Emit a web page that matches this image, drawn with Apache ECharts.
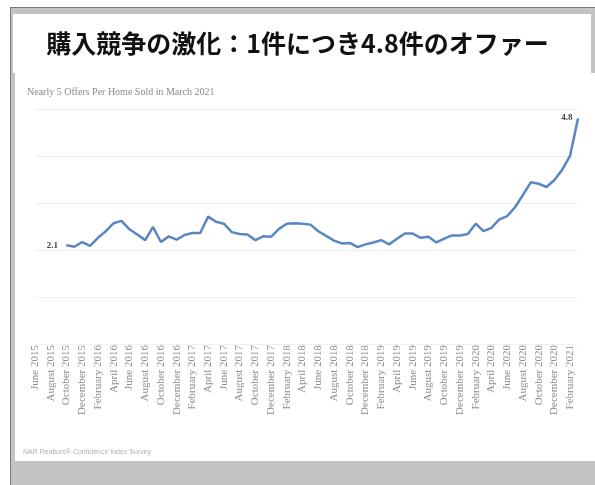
<!DOCTYPE html>
<html>
<head>
<meta charset="utf-8">
<script src="https://cdn.jsdelivr.net/npm/echarts@6/dist/echarts.min.js"></script>
<style>html,body{margin:0;padding:0;background:#fff;}#c{width:595px;height:485px;}</style>
</head>
<body>
<div id="c"></div>
<script>
var titleText = '購入競争の激化：1件につき4.8件のオファー';
var subtitleText = 'Nearly 5 Offers Per Home Sold in March 2021';
var sourceText = 'NAR Realtors® Confidence Index Survey';

var months = [
  'June 2015','July 2015','August 2015','September 2015','October 2015','November 2015','December 2015',
  'January 2016','February 2016','March 2016','April 2016','May 2016','June 2016','July 2016','August 2016','September 2016','October 2016','November 2016','December 2016',
  'January 2017','February 2017','March 2017','April 2017','May 2017','June 2017','July 2017','August 2017','September 2017','October 2017','November 2017','December 2017',
  'January 2018','February 2018','March 2018','April 2018','May 2018','June 2018','July 2018','August 2018','September 2018','October 2018','November 2018','December 2018',
  'January 2019','February 2019','March 2019','April 2019','May 2019','June 2019','July 2019','August 2019','September 2019','October 2019','November 2019','December 2019',
  'January 2020','February 2020','March 2020','April 2020','May 2020','June 2020','July 2020','August 2020','September 2020','October 2020','November 2020','December 2020',
  'January 2021','February 2021','March 2021'
];

var firstDataMonth = 'October 2015';
var offers = [
  2.1, 2.07, 2.17, 2.09, 2.26, 2.40, 2.57, 2.62, 2.44, 2.33, 2.21, 2.49, 2.17, 2.29, 2.22,
  2.32, 2.36, 2.36, 2.71, 2.60, 2.56, 2.38, 2.34, 2.33, 2.21, 2.29, 2.28, 2.45, 2.56, 2.57,
  2.56, 2.54, 2.40, 2.30, 2.20, 2.14, 2.15, 2.06, 2.12, 2.16, 2.21, 2.12, 2.24, 2.35, 2.35,
  2.26, 2.28, 2.16, 2.24, 2.31, 2.31, 2.34, 2.56, 2.40, 2.47, 2.65, 2.72, 2.91, 3.17, 3.44,
  3.41, 3.34, 3.49, 3.71, 4.01, 4.8
];

var start = months.indexOf(firstDataMonth);
var lineData = offers.map(function (v, k) { return [months[start + k], v]; });
var firstPt = lineData[0];
var lastPt = lineData[lineData.length - 1];

var chart = echarts.init(document.getElementById('c'), null, { renderer: 'canvas' });
chart.setOption({
  backgroundColor: '#fff',
  animation: false,
  graphic: [
    { type: 'rect', shape: { x: 10, y: 7, width: 585, height: 1 }, style: { fill: '#7a7a7a' }, silent: true },
    { type: 'rect', shape: { x: 11, y: 8, width: 584, height: 6 }, style: { fill: '#c3c3c3' }, silent: true },
    { type: 'rect', shape: { x: 10, y: 7, width: 1, height: 478 }, style: { fill: '#7a7a7a' }, silent: true },
    { type: 'rect', shape: { x: 11, y: 8, width: 2, height: 65 }, style: { fill: '#c3c3c3' }, silent: true },
    { type: 'rect', shape: { x: 11, y: 73, width: 4, height: 412 }, style: { fill: '#c3c3c3' }, silent: true },
    { type: 'rect', shape: { x: 591, y: 8, width: 4, height: 65 }, style: { fill: '#c3c3c3' }, silent: true },
    { type: 'rect', shape: { x: 11, y: 461, width: 584, height: 24 }, style: { fill: '#c3c3c3' }, silent: true },
    { type: 'text', left: 'center', top: 31, style: { text: titleText, font: 'bold 25px "Noto Sans CJK JP"', fill: '#111' } },
    { type: 'text', left: 27, top: 87, style: { text: subtitleText, font: '10px "Liberation Serif", serif', fill: '#8a8a8a' } },
    { type: 'text', left: 23, top: 449, style: { text: sourceText, font: '7px "Liberation Sans", sans-serif', fill: '#b0b0b0' } }
  ],
  grid: { left: 35, right: 17, top: 109, height: 235, containLabel: false },
  xAxis: {
    type: 'category',
    data: months,
    boundaryGap: false,
    axisLine: { show: false },
    axisTick: { show: false },
    splitLine: { show: false },
    axisLabel: {
      interval: 1,
      rotate: 90,
      margin: 1,
      fontFamily: '"Liberation Serif", serif',
      fontSize: 11,
      color: '#8e8e8e'
    }
  },
  yAxis: {
    type: 'value',
    min: 0,
    max: 5,
    interval: 1,
    axisLine: { show: false },
    axisTick: { show: false },
    axisLabel: { show: false },
    splitLine: { lineStyle: { color: '#f0f0f0', width: 1 } }
  },
  series: [{
    type: 'line',
    data: lineData,
    symbol: 'none',
    smooth: false,
    lineStyle: { color: '#5a87c3', width: 2.5 },
    markPoint: {
      symbol: 'circle',
      symbolSize: 1,
      itemStyle: { color: '#5a87c3' },
      label: { fontFamily: '"Liberation Serif", serif', fontSize: 9, fontWeight: 'bold', color: '#444' },
      data: [
        { coord: firstPt, value: firstPt[1], label: { position: 'left', distance: 8, formatter: firstPt[1].toFixed(1) } },
        { coord: lastPt, value: lastPt[1], label: { position: 'left', distance: 5, offset: [0, -1], formatter: lastPt[1].toFixed(1) } }
      ]
    }
  }]
});
</script>
</body>
</html>
